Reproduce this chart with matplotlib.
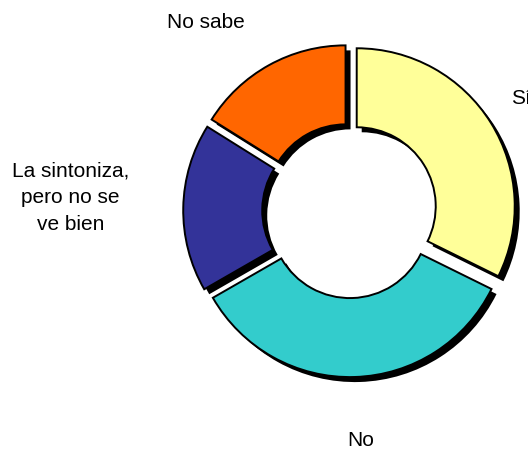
import matplotlib
matplotlib.use("Agg")
import matplotlib.pyplot as plt
import matplotlib.transforms as mtransforms

plt.rcParams['font.family'] = ['Liberation Sans', 'DejaVu Sans']

categories = ["Sí", "No", "La sintoniza,\npero no se\nve bien", "No sabe"]
values = [32.3, 34.4, 17.2, 16.1]
colors = ["#FFFF99", "#33CCCC", "#333399", "#FF6600"]
explode = [0.053, 0.053, 0.053, 0.053]

W, H = 528, 450
R_PX = 158            # radio exterior en pixeles
CX, CY = 349.6, 210.7  # centro (pixeles desde arriba a la izquierda)

fig = plt.figure(figsize=(W / 100, H / 100), dpi=100)
ax = fig.add_axes([0, 0, 1, 1])

# sombra negra desplazada
shadow = mtransforms.offset_copy(ax.transData, fig=fig, x=5, y=-5, units='dots')
sw, _ = ax.pie(values, explode=explode, startangle=90, counterclock=False,
               colors=['black'] * 4, radius=1.0,
               wedgeprops=dict(width=0.5, linewidth=0))
for w in sw:
    w.set_transform(shadow)

wedges, _ = ax.pie(values, explode=explode, startangle=90, counterclock=False,
                   colors=colors, radius=1.0,
                   wedgeprops=dict(width=0.5, edgecolor='black', linewidth=1.4))

ax.set_xlim(-CX / R_PX, (W - CX) / R_PX)
ax.set_ylim(-(H - CY) / R_PX, CY / R_PX)
ax.set_aspect('auto')
ax.axis('off')


def px(x, y):
    return x / W, 1 - y / H


# etiquetas (posiciones en pixeles, linea base)
fs = 15
fig.text(*px(511.5, 104), categories[0], fontsize=fs, ha='left', va='baseline')
fig.text(*px(361, 446), categories[1], fontsize=fs, ha='center', va='baseline')
fig.text(*px(70.5, 230), categories[2], fontsize=fs, ha='center', va='baseline',
         linespacing=1.52)
fig.text(*px(205.5, 28), categories[3], fontsize=fs, ha='center', va='baseline')

fig.savefig("out.png", dpi=100)
